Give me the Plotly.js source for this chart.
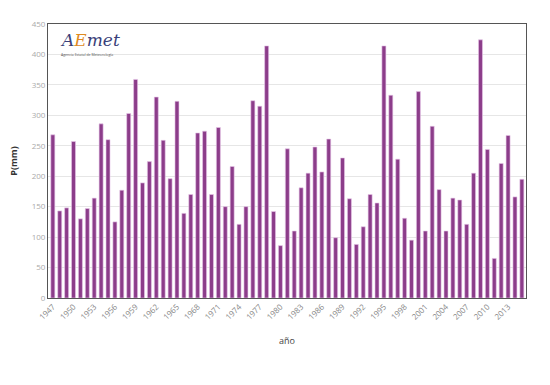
<!DOCTYPE html>
<html>
<head>
<meta charset="utf-8">
<script src="https://cdn.plot.ly/plotly-3.0.1.min.js"></script>
<style>html,body{margin:0;padding:0;background:#fff;}#chart{width:550px;height:385px;}</style>
</head>
<body>
<div id="chart"></div>
<script>
const years = [];
for (let y = 1947; y <= 2015; y++) years.push(y);
const precip = [268,143,148,257,130,147,164,286,260,125,177,303,359,189,224,330,259,196,323,139,
170,271,274,170,280,150,216,121,150,324,315,414,142,86,245,110,181,205,248,207,
261,99,230,163,88,117,170,156,414,333,228,131,95,339,110,282,178,110,164,161,
121,205,424,244,65,221,267,166,195];
const tickYears = [1947,1950,1953,1956,1959,1962,1965,1968,1971,1974,1977,1980,1983,1986,1989,1992,1995,1998,2001,2004,2007,2010,2013];
const yTicks = [0,50,100,150,200,250,300,350,400,450];

const trace = {
  type: 'bar', x: years, y: precip,
  marker: {color: '#8c3d8a', line: {color: '#e8c8ea', width: 0.6}},
  width: 0.58, hoverinfo: 'x+y'
};
const layout = {
  width: 550, height: 385,
  margin: {l: 48, r: 24, t: 24, b: 87},
  paper_bgcolor: '#fff', plot_bgcolor: '#fff',
  showlegend: false,
  font: {family: 'Open Sans, DejaVu Sans, sans-serif'},
  xaxis: {
    range: [1946.3, 2015.6], tickmode: 'array', tickvals: tickYears,
    ticktext: tickYears.map(String), tickangle: -45,
    tickfont: {size: 8, color: '#888'}, showgrid: false, zeroline: false,
    showline: true, linecolor: '#555', linewidth: 1, mirror: true, ticks: '',
    title: {text: 'año', font: {size: 9, color: '#444'}, standoff: 16}
  },
  yaxis: {
    range: [0, 450], tickmode: 'array', tickvals: yTicks,
    tickfont: {size: 8, color: '#aaa'}, showgrid: true, gridcolor: '#e6e6e6',
    zeroline: false, showline: true, linecolor: '#555', linewidth: 1, mirror: true, ticks: '',
    title: {text: '<b>P(mm)</b>', font: {size: 9, color: '#333'}, standoff: 12}
  },
  annotations: [
    {xref: 'paper', yref: 'paper', x: 0.02, y: 0.985, xanchor: 'left', yanchor: 'top',
     text: '<i><span style="color:#3a3f7a">A</span><span style="color:#e08a1e">E</span><span style="color:#3a3f7a">met</span></i>',
     showarrow: false, font: {size: 17, family: 'DejaVu Serif, serif', color: '#3a3f7a'}},
    {xref: 'paper', yref: 'paper', x: 0.023, y: 0.905, xanchor: 'left', yanchor: 'top',
     text: 'Agencia Estatal de Meteorología', showarrow: false,
     font: {size: 3.5, color: '#555'}}
  ]
};
Plotly.newPlot('chart', [trace], layout, {displayModeBar: false, staticPlot: true});
</script>
</body>
</html>
